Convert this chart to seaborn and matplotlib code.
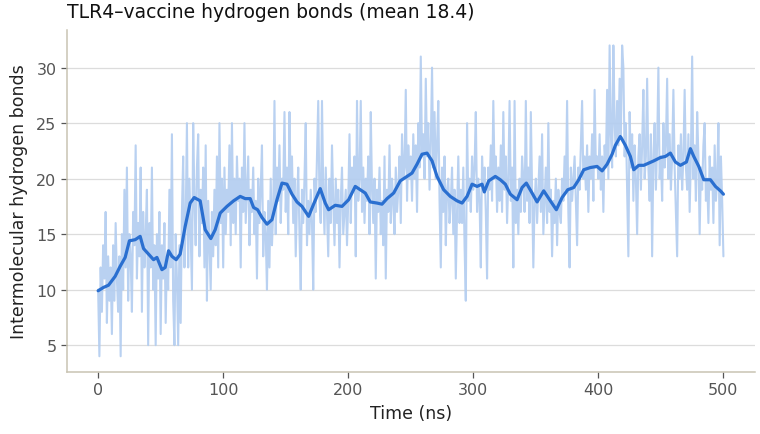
import numpy as np
import pandas as pd
import matplotlib
matplotlib.use("Agg")
import matplotlib.pyplot as plt
import seaborn as sns

# ---- data ----
# raw hydrogen-bond counts, one value per ns (t = 0 .. 500)
raw_counts = [
    10, 4, 12, 8, 14, 11, 17, 7, 13, 9,
    12, 6, 14, 9, 16, 11, 8, 13, 4, 15,
    10, 19, 12, 21, 9, 15, 13, 8, 17, 14,
    23, 11, 16, 13, 21, 8, 17, 12, 15, 19,
    5, 16, 12, 21, 10, 14, 5, 15, 11, 17,
    6, 14, 11, 16, 7, 13, 10, 19, 12, 24,
    9, 5, 15, 11, 5, 14, 7, 17, 22, 12,
    16, 25, 12, 20, 15, 10, 25, 18, 14, 21,
    24, 13, 19, 16, 21, 12, 23, 9, 18, 14,
    10, 17, 13, 19, 14, 22, 12, 25, 16, 20,
    12, 21, 15, 19, 17, 23, 14, 25, 16, 20,
    15, 22, 18, 20, 12, 21, 17, 25, 16, 19,
    22, 14, 19, 17, 21, 15, 18, 11, 20, 16,
    19, 23, 13, 17, 15, 10, 18, 12, 20, 14,
    17, 27, 15, 21, 18, 23, 16, 20, 19, 26,
    17, 21, 15, 26, 19, 22, 16, 20, 13, 18,
    21, 15, 10, 19, 16, 20, 25, 14, 18, 15,
    19, 16, 10, 20, 17, 22, 27, 18, 16, 27,
    19, 15, 21, 17, 13, 20, 16, 23, 18, 14,
    20, 16, 19, 12, 18, 21, 15, 17, 19, 14,
    18, 24, 16, 21, 19, 22, 13, 27, 18, 20,
    27, 17, 21, 16, 20, 18, 22, 15, 26, 19,
    16, 20, 11, 19, 17, 21, 15, 18, 14, 22,
    11, 19, 17, 23, 16, 20, 18, 15, 21, 17,
    19, 22, 16, 24, 20, 21, 28, 18, 23, 20,
    22, 18, 24, 20, 23, 17, 25, 21, 31, 22,
    24, 20, 29, 22, 25, 19, 23, 30, 21, 26,
    20, 23, 27, 18, 12, 21, 17, 22, 14, 19,
    20, 16, 18, 21, 15, 19, 11, 17, 22, 16,
    19, 16, 21, 14, 9, 25, 18, 20, 17, 22,
    19, 21, 26, 17, 20, 18, 12, 22, 19, 21,
    17, 11, 21, 19, 23, 18, 27, 20, 22, 17,
    21, 18, 23, 17, 26, 19, 22, 16, 20, 27,
    18, 21, 12, 27, 16, 19, 15, 20, 17, 22,
    20, 17, 27, 18, 21, 16, 26, 19, 12, 18,
    20, 16, 19, 22, 17, 24, 15, 18, 21, 16,
    25, 17, 19, 13, 18, 16, 20, 14, 19, 17,
    16, 20, 18, 22, 19, 27, 17, 12, 21, 18,
    20, 22, 18, 14, 21, 19, 23, 27, 20, 22,
    19, 23, 17, 22, 20, 24, 18, 28, 21, 22,
    20, 24, 19, 22, 17, 23, 21, 28, 20, 32,
    24, 21, 32, 25, 22, 27, 23, 29, 24, 32,
    30, 22, 25, 19, 13, 26, 21, 24, 18, 23,
    20, 15, 22, 24, 19, 23, 28, 20, 22, 29,
    21, 18, 24, 13, 22, 25, 19, 23, 30, 20,
    22, 18, 25, 21, 23, 29, 20, 24, 19, 22,
    28, 21, 17, 13, 23, 20, 24, 19, 22, 28,
    21, 19, 24, 17, 22, 31, 20, 23, 18, 26,
    22, 15, 21, 19, 23, 25, 18, 20, 16, 22,
    19, 21, 16, 23, 18, 20, 25, 14, 22, 18,
    13,
]
raw_time = list(range(0, 501))

# smoothed (running-average) curve, read at irregular times
smooth_time = [
    0, 4.3, 8.3, 13.6, 17.6, 21.6, 25, 29.6, 33.6, 36.3, 40.3, 44.3, 47, 51,
    53.6, 56.3, 59, 62.4, 65.6, 69.6, 73.6, 76.8, 81.6, 85.6, 90.1, 93.6,
    97.6, 103, 108.3, 113.6, 117.6, 121.6, 124.3, 127.5, 131, 135, 139, 143,
    147, 151, 155, 159, 163, 168.3, 172.3, 177.6, 181.6, 184.3, 189.6, 195,
    200.3, 205.6, 209.6, 213.6, 217.6, 223, 227, 231, 236.3, 241.6, 247, 251,
    255, 259, 263, 267, 271, 276.3, 281.6, 287, 291, 295, 299, 303, 307,
    308.8, 312.3, 317.6, 321.6, 325.6, 329.6, 335, 339, 342.4, 347, 351,
    356.3, 361.6, 366.4, 371, 375.5, 380.3, 384.3, 388.3, 393.6, 399, 403,
    407, 411, 413.6, 417.6, 421.6, 425.6, 428.3, 432.3, 436.3, 440.3, 444.3,
    449.6, 453.6, 457.6, 461.6, 465.6, 470.4, 473.6, 476.3, 480.3, 484.3,
    489.6, 493.6, 497.6, 500,
]
smooth_value = [
    9.9, 10.2, 10.4, 11.2, 12.1, 12.9, 14.4, 14.5, 14.8, 13.7, 13.2, 12.7, 12.9, 11.8,
    12.0, 13.5, 13.0, 12.7, 13.2, 15.7, 17.8, 18.3, 18.0, 15.4, 14.6, 15.4,
    16.9, 17.5, 18.0, 18.4, 18.2, 18.2, 17.4, 17.2, 16.5, 15.9, 16.3, 18.1,
    19.6, 19.5, 18.6, 17.9, 17.5, 16.6, 17.7, 19.1, 17.8, 17.2, 17.6, 17.5,
    18.1, 19.3, 19.0, 18.7, 17.9, 17.8, 17.7, 18.2, 18.7, 19.8, 20.2, 20.5,
    21.3, 22.2, 22.3, 21.6, 20.2, 19.0, 18.4, 18.0, 17.8, 18.4, 19.5, 19.3, 19.5,
    18.8, 19.8, 20.2, 19.9, 19.5, 18.6, 18.1, 19.2, 19.6, 18.7, 17.9,
    18.9, 18.0, 17.2, 18.3, 19.0, 19.2, 19.9, 20.8, 21.0, 21.1, 20.7,
    21.3, 22.2, 23.0, 23.8, 23.0, 22.0, 20.8, 21.2, 21.2, 21.4, 21.6,
    21.9, 22.0, 22.3, 21.5, 21.2, 21.5, 22.7, 22.0, 21.1, 19.9,
    19.9, 19.3, 18.9, 18.6,
]

title_text = "TLR4\u2013vaccine hydrogen bonds (mean 18.4)"
x_label = "Time (ns)"
y_label = "Intermolecular hydrogen bonds"

raw_df = pd.DataFrame({"time": raw_time, "hbonds": raw_counts})
smooth_df = pd.DataFrame({"time": smooth_time, "hbonds": smooth_value})

# ---- styling ----
sns.set_theme(style="white")
plt.rcParams["font.family"] = ["DejaVu Sans"]

line_color = "#2a6fd0"
spine_color = "#c9c4b3"
text_gray = "#555555"

fig, ax = plt.subplots(figsize=(7.6, 4.35), dpi=100)
fig.subplots_adjust(left=0.088, right=0.993, top=0.929, bottom=0.143)

sns.lineplot(data=raw_df, x="time", y="hbonds", ax=ax, color="#b3cdf0",
             linewidth=1.5, alpha=0.92, estimator=None, zorder=2)
sns.lineplot(data=smooth_df, x="time", y="hbonds", ax=ax, color=line_color,
             linewidth=2.3, estimator=None, zorder=3)

ax.set_yticks([5, 10, 15, 20, 25, 30])
ax.set_xticks([0, 100, 200, 300, 400, 500])
ax.yaxis.grid(True, color="#dcdcdc", linewidth=0.9, zorder=0)
ax.xaxis.grid(False)
ax.set_axisbelow(True)

for side in ["top", "right"]:
    ax.spines[side].set_visible(False)
for side in ["left", "bottom"]:
    ax.spines[side].set_color(spine_color)
    ax.spines[side].set_linewidth(1.1)

ax.tick_params(axis="both", which="major", labelsize=11.5, colors=text_gray,
               length=4, width=0.9, left=True, bottom=True)
ax.tick_params(axis="both", labelcolor=text_gray)

ax.set_xlabel(x_label, fontsize=12.5, color="#222222", labelpad=5)
ax.set_ylabel(y_label, fontsize=12.5, color="#222222", labelpad=6)
ax.set_title(title_text, loc="left", fontsize=13.5, color="#111111", pad=9)

fig.savefig("out.png", dpi=100)
